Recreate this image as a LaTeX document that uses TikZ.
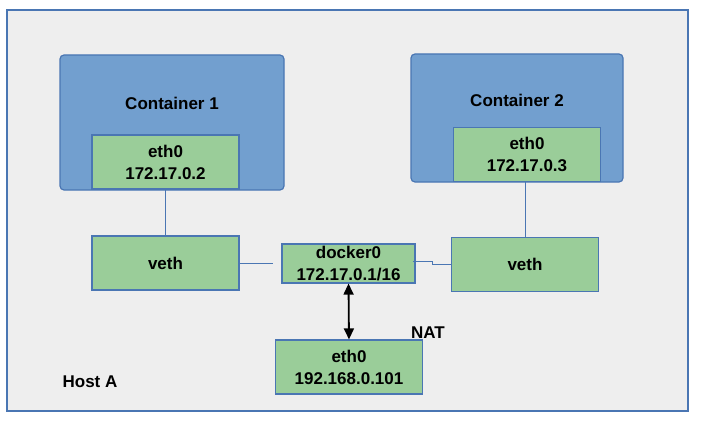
\documentclass[tikz,border=0pt]{standalone}
\usepackage{fontspec}
\setmainfont{Liberation Sans}
\usetikzlibrary{arrows.meta}
\definecolor{hostgray}{HTML}{EEEEEE}
\definecolor{linkblue}{HTML}{4A76B3}
\definecolor{boxblue}{HTML}{729FCF}
\definecolor{ifgreen}{HTML}{9ACD99}
\tikzset{
  iface/.style={draw=linkblue, fill=ifgreen, line width=1.2pt, minimum width=147pt,
    minimum height=54pt, inner sep=0pt, align=center,
    font=\bfseries\fontsize{17}{22}\selectfont},
  label/.style={font=\bfseries\fontsize{17}{20}\selectfont},
  link/.style={draw=linkblue, line width=1pt}
}
\begin{document}
\begin{tikzpicture}[x=1pt,y=-1pt]
\useasboundingbox (0,0) rectangle (702,428);
\filldraw[draw=linkblue, fill=hostgray, line width=1.5pt] (7,10) rectangle (688,411);
% containers
\filldraw[draw=linkblue, fill=boxblue, line width=1.2pt, rounded corners=4pt] (60,55) rectangle (284,190);
\node[label] (c1) at (172,103) {Container 1};
\filldraw[draw=linkblue, fill=boxblue, line width=1.2pt, rounded corners=4pt] (411,54) rectangle (623,182);
\node[label] (c2) at (517,100) {Container 2};
% interfaces
\node[iface] (e1) at (165.5,162) {eth0\\172.17.0.2};
\node[iface] (e2) at (527,154.5) {eth0\\172.17.0.3};
\node[iface] (v1) at (165.5,263) {veth};
\node[iface] (v2) at (525,264.5) {veth};
\node[iface, minimum width=133pt, minimum height=39pt] (dk) at (348.5,263.5) {docker0\\172.17.0.1/16};
\node[iface] (h) at (349,367) {eth0\\192.168.0.101};
% links
\draw[link] (e1.south) -- (v1.north);
\draw[link] (e2.south -| v2.north) -- (v2.north);
\coordinate (gap) at (273,263);
\draw[link] (v1.east) -- (gap);
\draw[link] ([xshift=-3pt,yshift=2pt]dk.east) -- ++(20,0) |- (v2.west);
\draw[line width=1.8pt, {Triangle[width=10pt,length=11pt]}-{Triangle[width=10pt,length=11pt]}]
    (dk.south) -- (h.north);
\node[label] (nat) at (428,333) {NAT};
\node[label] (host) at (90,382) {Host A};
\end{tikzpicture}
\end{document}
